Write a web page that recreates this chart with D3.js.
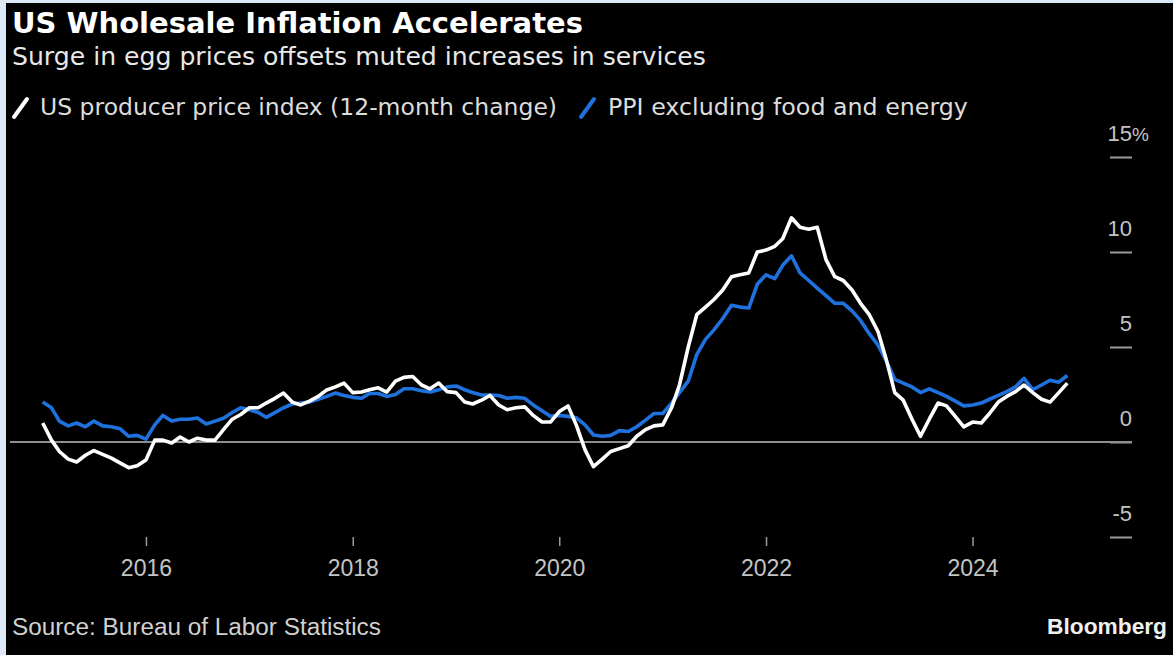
<!DOCTYPE html>
<meta charset="utf-8">
<style>
body { margin: 0; background: #dde9f6; }
svg { display: block; }
</style>
<body>
<script src="https://cdn.jsdelivr.net/npm/d3@7"></script>
<script>

// monthly, Jan 2015 .. Dec 2024
var startMonth = new Date(2015, 0, 1);

// US producer price index, 12-month % change
var ppi = [
  1.0, 0.1, -0.5, -0.9, -1.05, -0.7, -0.45, -0.65, -0.85, -1.1, -1.35, -1.25,
  -0.95, 0.1, 0.1, -0.05, 0.26, 0.0, 0.2, 0.1, 0.1, 0.65, 1.2, 1.45,
  1.8, 1.8, 2.05, 2.3, 2.58, 2.1, 1.95, 2.15, 2.4, 2.74, 2.9, 3.1,
  2.6, 2.63, 2.75, 2.85, 2.63, 3.2, 3.4, 3.45, 3.0, 2.8, 3.1, 2.65,
  2.6, 2.1, 2.0, 2.2, 2.45, 1.95, 1.7, 1.8, 1.85, 1.4, 1.05, 1.05,
  1.6, 1.9, 0.9, -0.4, -1.3, -0.9, -0.5, -0.35, -0.2, 0.3, 0.65, 0.85,
  0.9, 1.8, 3.0, 5.0, 6.7, 7.1, 7.5, 8.0, 8.7, 8.8, 8.9, 10.0,
  10.1, 10.3, 10.7, 11.8, 11.3, 11.2, 11.3, 9.6, 8.7, 8.5, 8.0, 7.3,
  6.7, 5.8, 4.4, 2.6, 2.2, 1.2, 0.3, 1.2, 2.05, 1.9, 1.35, 0.8,
  1.05, 1.0, 1.5, 2.1, 2.4, 2.65, 3.0, 2.6, 2.25, 2.1, 2.6, 3.1
];

// PPI excluding food and energy, 12-month % change
var ppiCore = [
  2.1, 1.8, 1.1, 0.85, 1.0, 0.8, 1.1, 0.85, 0.8, 0.7, 0.3, 0.35,
  0.15, 0.9, 1.4, 1.1, 1.2, 1.2, 1.26, 0.95, 1.1, 1.25, 1.55, 1.8,
  1.7, 1.55, 1.3, 1.55, 1.8, 2.0, 2.05, 2.1, 2.25, 2.4, 2.58, 2.45,
  2.35, 2.3, 2.55, 2.55, 2.4, 2.5, 2.8, 2.8, 2.7, 2.63, 2.75, 2.9,
  2.95, 2.75, 2.6, 2.47, 2.47, 2.45, 2.3, 2.35, 2.3, 1.95, 1.65, 1.35,
  1.4, 1.35, 1.28, 0.9, 0.37, 0.3, 0.35, 0.6, 0.55, 0.8, 1.15, 1.5,
  1.5, 2.05, 2.6, 3.2, 4.6, 5.4, 5.9, 6.5, 7.2, 7.1, 7.05, 8.3,
  8.8, 8.6, 9.3, 9.8, 8.9, 8.5, 8.1, 7.7, 7.3, 7.3, 6.9, 6.4,
  5.7, 5.1, 4.3, 3.3, 3.1, 2.9, 2.6, 2.8, 2.6, 2.4, 2.15, 1.9,
  1.95, 2.05, 2.25, 2.45, 2.65, 2.9, 3.35, 2.75, 3.0, 3.25, 3.15, 3.5
];

var yTicks = [-5, 0, 5, 10, 15];
var xTickYears = [2016, 2018, 2020, 2022, 2024];

var seriesNames = ["US producer price index (12-month change)", "PPI excluding food and energy"];
var seriesColors = ["#ffffff", "#1f72de"];

var width = 1173, height = 655;

var svg = d3.select("body").append("svg")
    .attr("width", width)
    .attr("height", height);

// black panel inside the light frame
svg.append("rect")
    .attr("x", 6).attr("y", 3)
    .attr("width", width - 6).attr("height", height - 3)
    .attr("fill", "#000");

var dates = ppi.map(function(d, i) { return d3.timeMonth.offset(startMonth, i); });

var x = d3.scaleTime()
    .domain([dates[0], dates[dates.length - 1]])
    .range([42.7, 1067.3]);

var y = d3.scaleLinear()
    .domain([-5, 15])
    .range([537, 157]);

// shrink/grow a text so it spans a given width
function fit(sel, w) {
  var fs = parseFloat(sel.attr("font-size"));
  var cur = sel.node().getComputedTextLength();
  sel.attr("font-size", (fs * w / cur).toFixed(2));
}

// header
var title = svg.append("text")
    .attr("x", 12).attr("y", 33)
    .attr("font-family", "DejaVu Sans").attr("font-weight", "bold")
    .attr("font-size", 26).attr("fill", "#fff")
    .text("US Wholesale Inflation Accelerates");
fit(title, 571);

var sub = svg.append("text")
    .attr("x", 12).attr("y", 65)
    .attr("font-family", "DejaVu Sans")
    .attr("font-size", 21).attr("fill", "#e8e8e8")
    .text("Surge in egg prices offsets muted increases in services");
fit(sub, 694);

// legend
var legX = [{icon: 14, text: 40, w: 517}, {icon: 581, text: 608, w: 360}];
seriesNames.forEach(function(name, k) {
  svg.append("line")
      .attr("x1", legX[k].icon).attr("y1", 117)
      .attr("x2", legX[k].icon + 13).attr("y2", 99)
      .attr("stroke", seriesColors[k]).attr("stroke-width", 4)
      .attr("stroke-linecap", "round");
  var t = svg.append("text")
      .attr("x", legX[k].text).attr("y", 115)
      .attr("font-family", "DejaVu Sans")
      .attr("font-size", 21).attr("fill", "#dcdcdc")
      .text(name);
  fit(t, legX[k].w);
});

// y axis on the right
var yAxis = svg.append("g")
    .attr("transform", "translate(1132,0)")
    .call(d3.axisLeft(y).tickValues(yTicks).tickSize(22).tickFormat(String));
yAxis.select(".domain").remove();
yAxis.selectAll("line").attr("stroke", "#9a9a9a").attr("stroke-width", 2);
yAxis.selectAll("text")
    .attr("x", 0).attr("y", -17).attr("dy", 0)
    .attr("text-anchor", "end")
    .attr("font-family", "Liberation Sans").attr("font-size", 22)
    .attr("fill", "#c4c4c4");
yAxis.selectAll(".tick").filter(function(d) { return d === 15; })
  .append("text")
    .attr("x", 0).attr("y", -17)
    .attr("text-anchor", "start")
    .attr("font-family", "Liberation Sans").attr("font-size", 19)
    .attr("fill", "#c4c4c4")
    .text("%");

// zero line
svg.append("line")
    .attr("x1", 10).attr("x2", 1132)
    .attr("y1", y(0)).attr("y2", y(0))
    .attr("stroke", "#8e8e8e").attr("stroke-width", 2);

// x axis
var xAxis = svg.append("g")
    .attr("transform", "translate(0,537)")
    .call(d3.axisBottom(x)
      .tickValues(xTickYears.map(function(yr) { return new Date(yr, 0, 1); }))
      .tickSize(9).tickPadding(14)
      .tickFormat(d3.timeFormat("%Y")));
xAxis.select(".domain").remove();
xAxis.selectAll("line").attr("stroke", "#9a9a9a").attr("stroke-width", 1.5);
xAxis.selectAll("text")
    .attr("font-family", "Liberation Sans").attr("font-size", 23)
    .attr("fill", "#c4c4c4");

// lines
var line = d3.line()
    .x(function(d, i) { return x(dates[i]); })
    .y(function(d) { return y(d); });

[ppiCore, ppi].forEach(function(s, k) {
  svg.append("path")
      .datum(s)
      .attr("d", line)
      .attr("fill", "none")
      .attr("stroke", k === 0 ? seriesColors[1] : seriesColors[0])
      .attr("stroke-width", 3.6)
      .attr("stroke-linejoin", "round");
});

// footer
var src = svg.append("text")
    .attr("x", 12).attr("y", 635)
    .attr("font-family", "Liberation Sans")
    .attr("font-size", 22).attr("fill", "#d0d0d0")
    .text("Source: Bureau of Labor Statistics");
fit(src, 369);

var brand = svg.append("text")
    .attr("x", 1167).attr("y", 634)
    .attr("text-anchor", "end")
    .attr("font-family", "Liberation Sans").attr("font-weight", "bold")
    .attr("font-size", 21).attr("fill", "#f0f0f0")
    .text("Bloomberg");
fit(brand, 120);

</script>
</body>
